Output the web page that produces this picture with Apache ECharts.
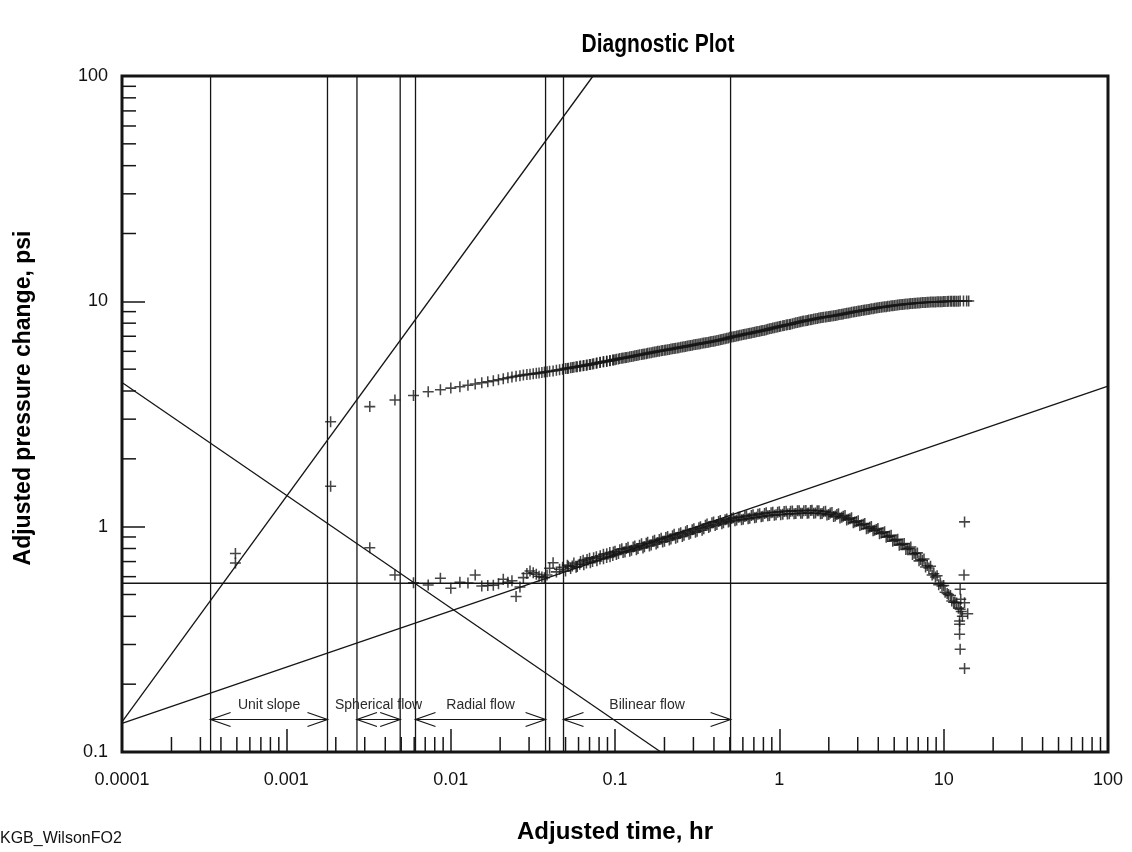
<!DOCTYPE html>
<html><head><meta charset="utf-8">
<script src="https://cdn.jsdelivr.net/npm/echarts@6/dist/echarts.min.js"></script>
<style>html,body{margin:0;padding:0;background:#fff}#c{width:1132px;height:852px}</style>
</head><body><div id="c"></div>
<script>
// ---------------- data ----------------
const xTickLabels = ['0.0001', '0.001', '0.01', '0.1', '1', '10', '100'];
const yTickLabels = ['0.1', '1', '10', '100'];

// Adjusted time, hr (first scan, shared by both curves)
const time = [
  0.00049, 0.00186, 0.00322, 0.00458, 0.00594, 0.0073, 0.00866, 0.01002, 0.01138, 0.01274,
  0.0141, 0.01546, 0.01682, 0.01818, 0.01954, 0.0209, 0.0223, 0.0236, 0.025, 0.0264,
  0.0277, 0.0291, 0.0304, 0.0318, 0.0332, 0.0345, 0.0359, 0.0372, 0.0386, 0.04,
  0.042, 0.044, 0.046, 0.048, 0.05, 0.052, 0.055, 0.058, 0.061, 0.064,
  0.067, 0.07, 0.073, 0.077, 0.081, 0.085, 0.089, 0.093, 0.097,
  0.1, 0.105, 0.11, 0.115, 0.12, 0.126, 0.132, 0.138, 0.145, 0.151,
  0.158, 0.166, 0.174, 0.182, 0.191, 0.2, 0.209, 0.219, 0.229, 0.24,
  0.251, 0.263, 0.275, 0.288, 0.302, 0.316, 0.331, 0.347, 0.363, 0.38,
  0.398, 0.417, 0.437, 0.457, 0.479, 0.501, 0.525, 0.55, 0.575, 0.603,
  0.631, 0.661, 0.692, 0.724, 0.759, 0.794, 0.832, 0.871, 0.912, 0.955,
  1.0, 1.05, 1.1, 1.15, 1.2, 1.26, 1.32, 1.38, 1.45, 1.51,
  1.58, 1.66, 1.74, 1.82, 1.91, 2.0, 2.09, 2.19, 2.29, 2.4,
  2.51, 2.63, 2.75, 2.88, 3.02, 3.16, 3.31, 3.47, 3.63, 3.8,
  3.98, 4.17, 4.37, 4.57, 4.79, 5.01, 5.25, 5.5, 5.75, 6.03,
  6.31, 6.61, 6.92, 7.24, 7.59, 7.94, 8.32, 8.71, 9.12, 9.55,
  10.0, 10.5, 11.0, 11.5, 12.0, 12.6
];

// Adjusted pressure change, psi (first scan)
const pressure = [
  0.76, 2.92, 3.41, 3.65, 3.82, 3.97, 4.05, 4.12, 4.18, 4.24,
  4.30, 4.35, 4.40, 4.44, 4.49, 4.53, 4.58, 4.62, 4.65, 4.68,
  4.71, 4.73, 4.75, 4.77, 4.79, 4.81, 4.83, 4.86, 4.87, 4.89,
  4.91, 4.94, 4.97, 5.00, 5.03, 5.05, 5.09, 5.12, 5.15, 5.18,
  5.21, 5.24, 5.27, 5.31, 5.35, 5.39, 5.42, 5.45, 5.49,
  5.51, 5.55, 5.59, 5.62, 5.65, 5.69, 5.73, 5.77, 5.81, 5.84,
  5.88, 5.92, 5.96, 6.00, 6.03, 6.07, 6.10, 6.14, 6.17, 6.21,
  6.25, 6.29, 6.33, 6.37, 6.41, 6.45, 6.49, 6.53, 6.57, 6.61,
  6.65, 6.70, 6.75, 6.80, 6.85, 6.92, 6.97, 7.02, 7.07, 7.12,
  7.17, 7.22, 7.27, 7.32, 7.37, 7.42, 7.48, 7.55, 7.61, 7.67,
  7.73, 7.79, 7.85, 7.90, 7.95, 8.03, 8.09, 8.15, 8.21, 8.26,
  8.31, 8.37, 8.43, 8.48, 8.53, 8.57, 8.61, 8.66, 8.71, 8.76,
  8.82, 8.88, 8.94, 9.00, 9.05, 9.10, 9.16, 9.21, 9.26, 9.31,
  9.36, 9.41, 9.45, 9.50, 9.55, 9.59, 9.63, 9.67, 9.70, 9.74,
  9.77, 9.80, 9.83, 9.86, 9.88, 9.90, 9.92, 9.94, 9.95, 9.97,
  9.98, 9.99, 10.0, 10.01, 10.02, 10.03
];

// Pressure derivative, psi (first scan)
const derivative = [
  0.69, 1.51, 0.807, 0.61, 0.564, 0.551, 0.590, 0.533, 0.567, 0.562,
  0.61, 0.545, 0.548, 0.550, 0.558, 0.584, 0.566, 0.575, 0.49, 0.54,
  0.594, 0.62, 0.636, 0.625, 0.615, 0.603, 0.598, 0.594, 0.61, 0.654,
  0.692, 0.63, 0.647, 0.66, 0.636, 0.668, 0.669, 0.66, 0.681, 0.71,
  0.69, 0.725, 0.70, 0.735, 0.718, 0.755, 0.73, 0.768, 0.745,
  0.778, 0.76, 0.798, 0.772, 0.81, 0.785, 0.82, 0.80, 0.84, 0.815,
  0.852, 0.83, 0.87, 0.848, 0.888, 0.862, 0.905, 0.882, 0.925, 0.898,
  0.94, 0.915, 0.962, 0.935, 0.978, 0.955, 1.0, 0.98, 1.028, 1.005,
  1.05, 1.022, 1.065, 1.04, 1.082, 1.058, 1.095, 1.07, 1.105, 1.08,
  1.118, 1.09, 1.13, 1.102, 1.14, 1.112, 1.152, 1.12, 1.158, 1.13,
  1.165, 1.135, 1.172, 1.14, 1.175, 1.145, 1.178, 1.148, 1.18, 1.15,
  1.182, 1.15, 1.178, 1.145, 1.17, 1.132, 1.156, 1.115, 1.14, 1.10,
  1.122, 1.08, 1.095, 1.05, 1.062, 1.02, 1.032, 0.985, 1.002, 0.965,
  0.982, 0.938, 0.95, 0.905, 0.915, 0.87, 0.88, 0.835, 0.842, 0.80,
  0.812, 0.762, 0.765, 0.715, 0.718, 0.672, 0.668, 0.618, 0.605, 0.56,
  0.548, 0.505, 0.495, 0.462, 0.458, 0.43
];

// second scan of the dense part of both curves
const time2 = [
  0.0513, 0.0537, 0.0562, 0.0589, 0.0617, 0.0646, 0.0676, 0.0708, 0.0741, 0.0776,
  0.0813, 0.0851, 0.0891, 0.0933, 0.0977,
  0.102, 0.107, 0.112, 0.117, 0.123, 0.129, 0.135, 0.141, 0.148, 0.155,
  0.162, 0.170, 0.178, 0.186, 0.195, 0.204, 0.214, 0.224, 0.234, 0.245,
  0.257, 0.269, 0.282, 0.295, 0.309, 0.324, 0.339, 0.355, 0.372, 0.389,
  0.407, 0.427, 0.447, 0.468, 0.490, 0.513, 0.537, 0.562, 0.589, 0.617,
  0.646, 0.676, 0.708, 0.741, 0.776, 0.813, 0.851, 0.891, 0.933, 0.977,
  1.02, 1.07, 1.12, 1.17, 1.23, 1.29, 1.35, 1.41, 1.48, 1.55,
  1.62, 1.70, 1.78, 1.86, 1.95, 2.04, 2.14, 2.24, 2.34, 2.45,
  2.57, 2.69, 2.82, 2.95, 3.09, 3.24, 3.39, 3.55, 3.72, 3.89,
  4.07, 4.27, 4.47, 4.68, 4.90, 5.13, 5.37, 5.62, 5.89, 6.17,
  6.46, 6.76, 7.08, 7.41, 7.76, 8.13, 8.51, 8.91, 9.33, 9.77,
  10.2, 10.7, 11.2, 11.7, 12.3
];
const pressure2 = [
  5.04, 5.07, 5.10, 5.13, 5.16, 5.19, 5.22, 5.25, 5.28, 5.32,
  5.36, 5.39, 5.42, 5.46, 5.49,
  5.53, 5.57, 5.60, 5.63, 5.67, 5.71, 5.75, 5.79, 5.82, 5.86,
  5.90, 5.94, 5.98, 6.01, 6.05, 6.08, 6.12, 6.16, 6.19, 6.23,
  6.27, 6.31, 6.35, 6.39, 6.43, 6.47, 6.51, 6.55, 6.59, 6.63,
  6.67, 6.72, 6.77, 6.82, 6.88, 6.94, 6.99, 7.04, 7.09, 7.14,
  7.19, 7.24, 7.29, 7.34, 7.40, 7.45, 7.51, 7.58, 7.64, 7.70,
  7.76, 7.82, 7.87, 7.92, 7.99, 8.06, 8.12, 8.18, 8.23, 8.28,
  8.34, 8.40, 8.45, 8.50, 8.55, 8.59, 8.63, 8.68, 8.73, 8.79,
  8.85, 8.91, 8.97, 9.02, 9.07, 9.13, 9.18, 9.23, 9.28, 9.33,
  9.38, 9.43, 9.47, 9.52, 9.57, 9.61, 9.65, 9.68, 9.72, 9.75,
  9.78, 9.81, 9.84, 9.87, 9.89, 9.91, 9.93, 9.94, 9.96, 9.97,
  9.98, 10.0, 10.0, 10.01, 10.02
];
const derivative2 = [
  0.675, 0.652, 0.69, 0.665, 0.70, 0.678, 0.715, 0.692, 0.728, 0.705,
  0.742, 0.72, 0.758, 0.735, 0.772,
  0.752, 0.79, 0.768, 0.80, 0.778, 0.812, 0.79, 0.828, 0.805, 0.845,
  0.82, 0.862, 0.838, 0.878, 0.855, 0.895, 0.872, 0.912, 0.888, 0.93,
  0.905, 0.95, 0.925, 0.968, 0.945, 0.99, 0.965, 1.015, 0.992, 1.04,
  1.012, 1.055, 1.03, 1.072, 1.048, 1.088, 1.062, 1.1, 1.072, 1.11,
  1.085, 1.122, 1.095, 1.135, 1.108, 1.145, 1.118, 1.152, 1.125, 1.16,
  1.13, 1.168, 1.138, 1.172, 1.142, 1.176, 1.146, 1.178, 1.148, 1.18,
  1.148, 1.176, 1.14, 1.165, 1.128, 1.15, 1.11, 1.132, 1.092, 1.112,
  1.07, 1.085, 1.04, 1.055, 1.012, 1.025, 0.978, 0.995, 0.958, 0.972,
  0.93, 0.942, 0.898, 0.908, 0.862, 0.872, 0.828, 0.835, 0.792, 0.80,
  0.752, 0.758, 0.705, 0.71, 0.662, 0.655, 0.61, 0.598, 0.552, 0.545,
  0.512, 0.50, 0.468, 0.462, 0.435
];

const pressureTailTime = [13.2, 13.8, 14.2];
const pressureTail = [10.03, 10.04, 10.04];
const derivTailTime = [12.5, 12.6, 12.7, 12.5, 12.5, 12.6, 13.4, 13.3, 13.4, 14.0, 13.4, 12.8, 13.0];
const derivTail = [0.381, 0.527, 0.476, 0.369, 0.333, 0.286, 1.05, 0.61, 0.46, 0.411, 0.235, 0.42, 0.40];

// straight-line flow-regime guides (end points on the frame)
const unitSlopeLine = [[0.0001, 0.136], [0.0735, 100]];
const sphericalLine = [[0.0001, 4.36], [0.19, 0.1]];
const bilinearLine = [[0.0001, 0.134], [100, 4.2]];
const radialLine = [[0.0001, 0.561], [100, 0.561]];

// vertical regime boundaries
const verticalLines = [0.000346, 0.00178, 0.00269, 0.00493, 0.00611, 0.0378, 0.0486, 0.505];

const flowNames = ['Unit slope', 'Spherical flow', 'Radial flow', 'Bilinear flow'];
const flowFrom = [0.000346, 0.00269, 0.00611, 0.0486];
const flowTo = [0.00178, 0.00493, 0.0378, 0.505];

// ---------------- chart ----------------
const FONT = '"Liberation Sans", Arial, Helvetica, sans-serif';
const INK = '#151515';
const CROSS = 'path://M4.3,0H5.7V10H4.3ZM0,4.3H10V5.7H0Z';

const pair = (xs, ys) => xs.map((t, i) => [t, ys[i]]);
const pressurePts = pair(time, pressure).concat(pair(time2, pressure2), pair(pressureTailTime, pressureTail));
const derivPts = pair(time, derivative).concat(pair(time2, derivative2), pair(derivTailTime, derivTail));

const xMinor = [];
for (let d = -4; d <= 1; d++) for (let m = 2; m <= 9; m++) xMinor.push([m * Math.pow(10, d), 0.1]);
const yMinor = [];
for (let d = -1; d <= 1; d++) for (let m = 2; m <= 9; m++) yMinor.push([0.0001, m * Math.pow(10, d)]);

const chart = echarts.init(document.getElementById('c'));

const lineSeries = (data) => ({
  type: 'line', data: data, symbol: 'none', silent: true, clip: true, z: 4,
  lineStyle: { color: INK, width: 1.3 }
});
const crossSeries = (data) => ({
  type: 'scatter', data: data, symbol: CROSS, symbolSize: 11, silent: true, z: 3,
  itemStyle: { color: '#161616' }
});

chart.setOption({
  animation: false,
  backgroundColor: '#fff',
  grid: { left: 122, top: 76, width: 986, height: 676, show: true, borderColor: INK, borderWidth: 3, containLabel: false },
  xAxis: {
    type: 'log', logBase: 10, min: 0.0001, max: 100, splitNumber: 6,
    axisLine: { show: false },
    axisTick: { show: true, inside: true, length: 23, lineStyle: { color: INK, width: 1.5 } },
    axisLabel: {
      fontSize: 18, color: '#111', margin: 19, fontFamily: FONT,
      formatter: v => xTickLabels[Math.round(Math.log10(v)) + 4]
    },
    splitLine: { show: false }
  },
  yAxis: {
    type: 'log', logBase: 10, min: 0.1, max: 100, splitNumber: 3,
    axisLine: { show: false },
    axisTick: { show: true, inside: true, length: 23, lineStyle: { color: INK, width: 1.5 } },
    axisLabel: {
      fontSize: 18, color: '#111', margin: 14, fontFamily: FONT,
      formatter: v => yTickLabels[Math.round(Math.log10(v)) + 1]
    },
    splitLine: { show: false }
  },
  graphic: [
    { type: 'text', x: 658, y: 45, scaleX: 0.84, style: { text: 'Diagnostic Plot', font: 'bold 25px ' + FONT, fill: '#000', align: 'center', verticalAlign: 'middle' } },
    { type: 'text', x: 615, y: 832, style: { text: 'Adjusted time, hr', font: 'bold 24px ' + FONT, fill: '#000', align: 'center', verticalAlign: 'middle' } },
    { type: 'text', x: 24, y: 398, rotation: Math.PI / 2, style: { text: 'Adjusted pressure change, psi', font: 'bold 23px ' + FONT, fill: '#000', align: 'center', verticalAlign: 'middle' } },
    { type: 'text', x: 0, y: 839, style: { text: 'KGB_WilsonFO2', font: '16px ' + FONT, fill: '#111', align: 'left', verticalAlign: 'middle' } }
  ],
  series: [
    crossSeries(pressurePts),
    crossSeries(derivPts),
    lineSeries(unitSlopeLine),
    lineSeries(sphericalLine),
    lineSeries(bilinearLine),
    lineSeries(radialLine),
    {
      type: 'custom', silent: true, z: 4,
      data: verticalLines.map(v => [v, 0.1, 100]),
      encode: { x: 0, y: [1, 2] },
      renderItem: (params, api) => {
        const a = api.coord([api.value(0), api.value(1)]);
        const b = api.coord([api.value(0), api.value(2)]);
        return { type: 'line', shape: { x1: a[0], y1: a[1], x2: b[0], y2: b[1] }, style: { stroke: INK, lineWidth: 1.3 } };
      }
    },
    {
      type: 'custom', silent: true, z: 5,
      data: flowNames.map((n, i) => [flowFrom[i], flowTo[i], 0.1]),
      encode: { x: [0, 1], y: 2 },
      renderItem: (params, api) => {
        const a = api.coord([api.value(0), 0.1]);
        const b = api.coord([api.value(1), 0.1]);
        const y = a[1] - 32.5, x1 = a[0], x2 = b[0];
        const hl = 20, hw = 7;
        const st = { stroke: INK, fill: 'none', lineWidth: 1.2 };
        return {
          type: 'group', children: [
            { type: 'line', shape: { x1: x1, y1: y, x2: x2, y2: y }, style: st },
            { type: 'polyline', shape: { points: [[x1 + hl, y - hw], [x1, y], [x1 + hl, y + hw]] }, style: st },
            { type: 'polyline', shape: { points: [[x2 - hl, y - hw], [x2, y], [x2 - hl, y + hw]] }, style: st },
            { type: 'text', style: { text: flowNames[params.dataIndex], x: (x1 + x2) / 2, y: y - 14.5, align: 'center', verticalAlign: 'middle', font: '14px ' + FONT, fill: '#2a2a2a' } }
          ]
        };
      }
    },
    {
      type: 'custom', silent: true, z: 5, data: xMinor, encode: { x: 0, y: 1 },
      renderItem: (params, api) => {
        const p = api.coord([api.value(0), api.value(1)]);
        return { type: 'line', shape: { x1: p[0], y1: p[1], x2: p[0], y2: p[1] - 15 }, style: { stroke: INK, lineWidth: 1.5 } };
      }
    },
    {
      type: 'custom', silent: true, z: 5, data: yMinor, encode: { x: 0, y: 1 },
      renderItem: (params, api) => {
        const p = api.coord([api.value(0), api.value(1)]);
        return { type: 'line', shape: { x1: p[0], y1: p[1], x2: p[0] + 14, y2: p[1] }, style: { stroke: INK, lineWidth: 1.5 } };
      }
    }
  ]
});
</script>
</body></html>
